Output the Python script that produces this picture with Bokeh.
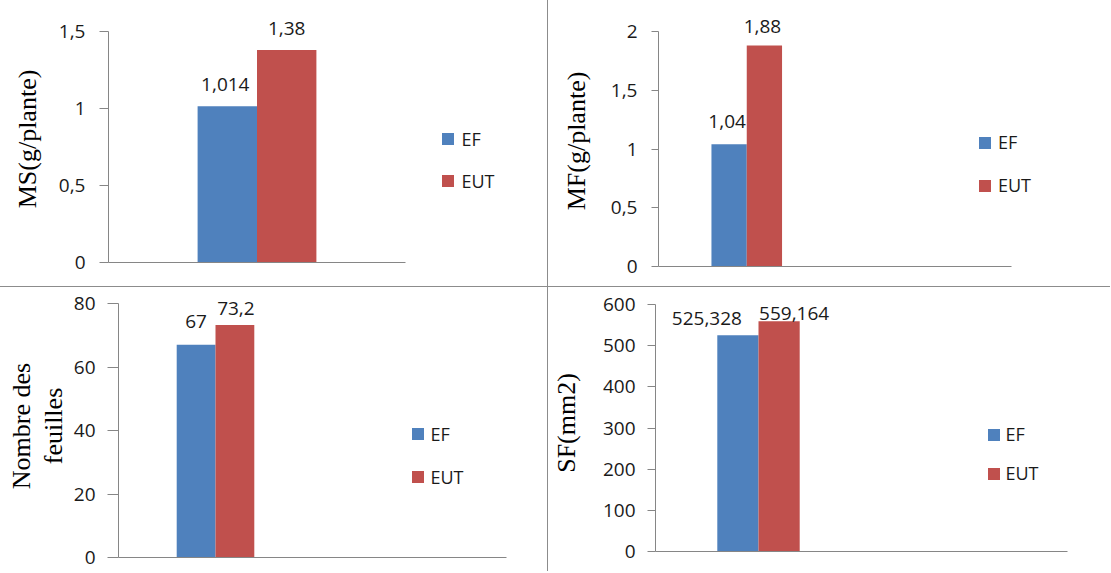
from bokeh.plotting import figure
from bokeh.models import Range1d, FixedTicker, CustomJSTickFormatter, Legend, LegendItem
from bokeh.layouts import column, row
from bokeh.embed import file_html
from bokeh.resources import INLINE
from bokeh.core.properties import value

# ---------------- data ----------------
series = ["EF", "EUT"]
colors = ["#4F81BD", "#C0504D"]

ms_values = [1.014, 1.38]
mf_values = [1.04, 1.88]
nf_values = [67, 73.2]
sf_values = [525.328, 559.164]

ms_ticks = [0, 0.5, 1, 1.5]
mf_ticks = [0, 0.5, 1, 1.5, 2]
nf_ticks = [0, 20, 40, 60, 80]
sf_ticks = [0, 100, 200, 300, 400, 500, 600]

ms_title = "MS(g/plante)"
mf_title = "MF(g/plante)"
nf_title = "Nombre des\nfeuilles"
sf_title = "SF(mm2)"

# number of category slots on each x axis (only the first holds bars)
ms_ncat = 1
mf_ncat = 2
nf_ncat = 2
sf_ncat = 2

BAR_FRAC = 0.2   # width of one bar, in category units
SANS = "Open Sans"
SERIF = "Liberation Serif"
AXIS_GREY = "#868686"
DIVIDER = "1px solid #8c8c8c"


def fmt(v):
    return f"{v:g}".replace(".", ",")


def panel(values, ticks, ytitle, ncat, lay):
    w, h = lay["w"], lay["h"]
    fl, ft, fb = lay["left"], lay["top"], lay["bottom"]
    frame_w = w - fl
    frame_h = h - ft - fb
    ymax = ticks[-1]
    y_end = ymax * frame_h / lay["ytop_px"]
    x_end = ncat * frame_w / lay["xaxis_px"]

    p = figure(width=w, height=h, output_backend="svg", toolbar_location=None,
               x_range=Range1d(0, x_end), y_range=Range1d(0, y_end),
               min_border_left=fl, min_border_right=0, min_border_top=ft,
               min_border_bottom=fb, frame_align=False)
    p.xgrid.visible = False
    p.ygrid.visible = False
    p.outline_line_color = None
    p.background_fill_color = "white"
    p.border_fill_color = "white"

    # y axis
    ya = p.yaxis[0]
    ya.ticker = FixedTicker(ticks=ticks)
    ya.formatter = CustomJSTickFormatter(code="return tick.toString().replace('.', ',');")
    ya.bounds = (0, ymax)
    ya.axis_line_color = AXIS_GREY
    ya.major_tick_line_color = AXIS_GREY
    ya.major_tick_out = lay["tick_out"]
    ya.major_tick_in = 0
    ya.minor_tick_line_color = None
    ya.major_label_standoff = lay["lab_standoff"]
    ya.major_label_text_font = SANS
    ya.major_label_text_font_size = "19px"
    ya.major_label_text_color = "#1a1a1a"
    ya.axis_label = ytitle
    ya.axis_label_text_font = SERIF
    ya.axis_label_text_font_style = "normal"
    ya.axis_label_text_font_size = "26px"
    ya.axis_label_text_color = "#000000"
    ya.axis_label_standoff = lay["title_standoff"]
    ya.axis_label_text_line_height = 1.1

    # x axis: baseline only
    xa = p.xaxis[0]
    xa.ticker = FixedTicker(ticks=[])
    xa.bounds = (0, ncat)
    xa.axis_line_color = AXIS_GREY
    xa.major_tick_line_color = None
    xa.minor_tick_line_color = None
    xa.major_tick_out = 0
    xa.major_tick_in = 0
    xa.major_label_standoff = 0
    xa.major_label_text_font_size = "0px"

    # bars (first category slot, centred at 0.5)
    renderers = []
    xs = []
    for i, (name, col) in enumerate(zip(series, colors)):
        xc = 0.5 + (i - 0.5) * BAR_FRAC
        xs.append(xc)
        r = p.vbar(x=[xc], top=[values[i]], width=BAR_FRAC, bottom=0,
                   fill_color=col, line_color=None)
        renderers.append(r)

    t = p.text(x=xs, y=values, text=[fmt(v) for v in values],
               x_offset=lay["lab_dx"], y_offset=lay["lab_dy"],
               text_font=value(SANS), text_font_size="19px",
               text_align="center", text_baseline="middle", text_color="#1a1a1a")
    t.level = "overlay"

    legend = Legend(items=[LegendItem(label=n, renderers=[r]) for n, r in zip(series, renderers)],
                    location=lay["legend_loc"], orientation="vertical",
                    background_fill_alpha=0, border_line_color=None,
                    padding=0, margin=0, spacing=lay["legend_spacing"],
                    glyph_width=15, glyph_height=15, label_height=25,
                    label_standoff=lay["legend_standoff"],
                    label_text_font=SANS, label_text_font_size="18px",
                    label_text_color="#1a1a1a")
    p.add_layout(legend)
    return p


lay_ms = dict(w=548, h=287, left=108, top=15, bottom=25, ytop_px=231, xaxis_px=297,
              tick_out=9, lab_standoff=14, title_standoff=14,
              lab_dx=[-2, 0], lab_dy=[-22, -21],
              legend_loc=(331.5, 69), legend_spacing=17, legend_standoff=7)
lay_mf = dict(w=562, h=287, left=110, top=15, bottom=21, ytop_px=235, xaxis_px=353,
              tick_out=7, lab_standoff=14, title_standoff=17,
              lab_dx=[-2, -2], lab_dy=[-23, -19],
              legend_loc=(319, 68.5), legend_spacing=18, legend_standoff=6)
lay_nf = dict(w=548, h=284, left=118, top=7, bottom=14, ytop_px=254, xaxis_px=388,
              tick_out=11, lab_standoff=12, title_standoff=3,
              lab_dx=[0, 1], lab_dy=[-23, -17],
              legend_loc=(291.5, 68), legend_spacing=18, legend_standoff=6)
lay_sf = dict(w=562, h=284, left=107, top=7, bottom=20, ytop_px=247, xaxis_px=412,
              tick_out=8, lab_standoff=12, title_standoff=19,
              lab_dx=[-31, 15], lab_dy=[-17, -8],
              legend_loc=(330.5, 65.5), legend_spacing=14, legend_standoff=5)

p1 = panel(ms_values, ms_ticks, ms_title, ms_ncat, lay_ms)
p2 = panel(mf_values, mf_ticks, mf_title, mf_ncat, lay_mf)
p3 = panel(nf_values, nf_ticks, nf_title, nf_ncat, lay_nf)
p4 = panel(sf_values, sf_ticks, sf_title, sf_ncat, lay_sf)

p1.styles = {"border-right": DIVIDER, "border-bottom": DIVIDER}
p2.styles = {"border-bottom": DIVIDER}
p3.styles = {"border-right": DIVIDER}

layout = column(row(p1, p2, spacing=0), row(p3, p4, spacing=0), spacing=0)

open("out.html", "w").write(file_html(layout, INLINE))
